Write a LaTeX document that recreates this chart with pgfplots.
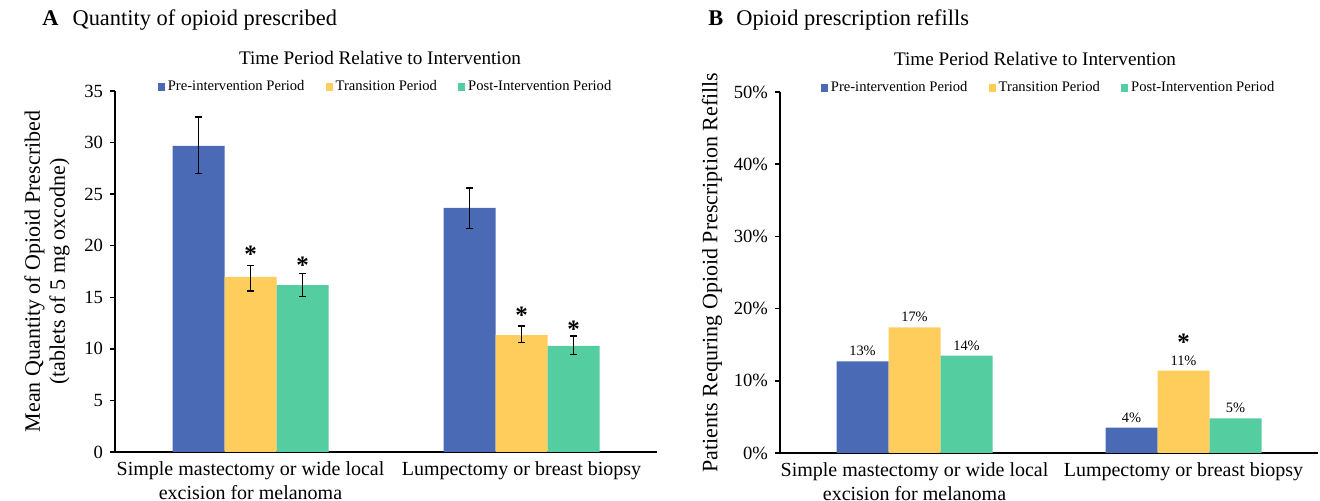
\documentclass[border=0pt]{standalone}
\usepackage{fontspec}
\setmainfont{Liberation Serif}
\usepackage{pgfplots}
\pgfplotsset{compat=1.18}

\definecolor{preblue}{HTML}{4A6AB6}
\definecolor{transyellow}{HTML}{FFCD5C}
\definecolor{postgreen}{HTML}{54CEA1}

\tikzset{star/.style={font=\fontsize{12.5}{12.5}\selectfont\bfseries, anchor=center, inner sep=0pt, yshift=-2pt}}

\pgfplotsset{
  panel/.style={
    scale only axis, height=180.5pt, anchor=south west,
    axis lines=left, axis line style={-, line width=0.75pt, black},
    ybar=0pt, bar width=26pt,
    xmin=0, xmax=2, xtick={0.5,1.5},
    xticklabels={{Simple mastectomy or wide local\\excision for melanoma},{Lumpectomy or breast biopsy}},
    xticklabel style={align=center, font=\fontsize{10}{12}\selectfont, yshift=1pt},
    major x tick style={draw=none},
    tick align=outside, major tick length=2.5pt,
    major y tick style={line width=0.75pt, black},
    yticklabel style={font=\fontsize{9.3}{11}\selectfont},
    /pgf/number format/assume math mode=true,
    ylabel style={align=center, anchor=center, font=\fontsize{11}{12.5}\selectfont},
    title={Time Period Relative to Intervention},
    title style={anchor=center, font=\fontsize{9.6}{11}\selectfont},
    legend columns=3,
    legend style={at={(0.5,1.011)}, anchor=center, draw=none, fill=none,
      font=\fontsize{7.3}{8}\selectfont, inner sep=0pt,
      nodes={inner sep=1.5pt},
      /tikz/every even column/.append style={column sep=9pt}},
  },
  errs/.style={error bars/.cd, y dir=both, y explicit,
    error bar style={draw=black, line width=0.75pt},
    error mark options={rotate=90, mark size=1.7pt, draw=black, line width=0.75pt}},
}

\begin{document}
\begin{tikzpicture}
\path[use as bounding box] (0,0) rectangle (660pt,250.5pt);

\node[anchor=west, inner sep=0pt, font=\fontsize{11.2}{13}\selectfont] at (21pt,240.5pt)
  {\textbf{A}\hspace{7pt}Quantity of opioid prescribed};
\node[anchor=west, inner sep=0pt, font=\fontsize{11.2}{13}\selectfont] at (354pt,240.5pt)
  {\textbf{B}\hspace{6.5pt}Opioid prescription refills};

% Panel A
\begin{axis}[panel, at={(57.5pt,24.5pt)}, width=271pt,
  ymin=0, ymax=35, ytick={0,5,...,35},
  ylabel={Mean Quantity of Opioid Prescribed\\(tablets of 5 mg oxcodne)},
  ylabel style={at={(rel axis cs:-0.1255,0.5)}},
  title style={at={(rel axis cs:0.489,1.0582)}},
  legend image code/.code={\fill[#1] (0pt,-1.8pt) rectangle (3.6pt,1.8pt);},
]
\addplot[fill=preblue, draw=none, errs] coordinates {
  (0.5,29.67) += (0,2.81) -= (0,2.69)
  (1.5,23.66) += (0,1.94) -= (0,2.01)
};
\addplot[fill=transyellow, draw=none, errs] coordinates {
  (0.5,16.97) += (0,1.13) -= (0,1.37)
  (1.5,11.34) += (0,0.86) -= (0,0.74)
};
\addplot[fill=postgreen, draw=none, errs] coordinates {
  (0.5,16.19) += (0,1.14) -= (0,1.13)
  (1.5,10.28) += (0,0.97) -= (0,0.81)
};
\legend{Pre-intervention Period, Transition Period, Post-Intervention Period}
\node[star] at (axis cs:0.5,19.6) {*};
\node[star, xshift=26pt] at (axis cs:0.5,18.5) {*};
\node[star] at (axis cs:1.5,13.67) {*};
\node[star, xshift=26pt] at (axis cs:1.5,12.28) {*};
\end{axis}

% Panel B
\begin{axis}[panel, at={(390pt,24pt)}, width=269pt,
  ymin=0, ymax=50, ytick={0,10,...,50},
  yticklabel={\pgfmathprintnumber{\tick}\%},
  ylabel={Patients Requring Opioid Prescription Refills},
  ylabel style={at={(rel axis cs:-0.1264,0.5)}},
  title style={at={(rel axis cs:0.474,1.0582)}},
  legend image code/.code={\fill[#1] (0pt,-1.8pt) rectangle (3.6pt,1.8pt);},
  point meta=explicit symbolic,
  nodes near coords,
  nodes near coords style={font=\fontsize{7.2}{8}\selectfont, inner sep=2.4pt},
]
\addplot[fill=preblue, draw=none] coordinates {
  (0.5,12.7) [13\%]
  (1.5,3.5) [4\%]
};
\addplot[fill=transyellow, draw=none] coordinates {
  (0.5,17.4) [17\%]
  (1.5,11.4) [11\%]
};
\addplot[fill=postgreen, draw=none] coordinates {
  (0.5,13.5) [14\%]
  (1.5,4.8) [5\%]
};
\legend{Pre-intervention Period, Transition Period, Post-Intervention Period}
\node[star] at (axis cs:1.5,15.9) {*};
\end{axis}
\end{tikzpicture}
\end{document}
